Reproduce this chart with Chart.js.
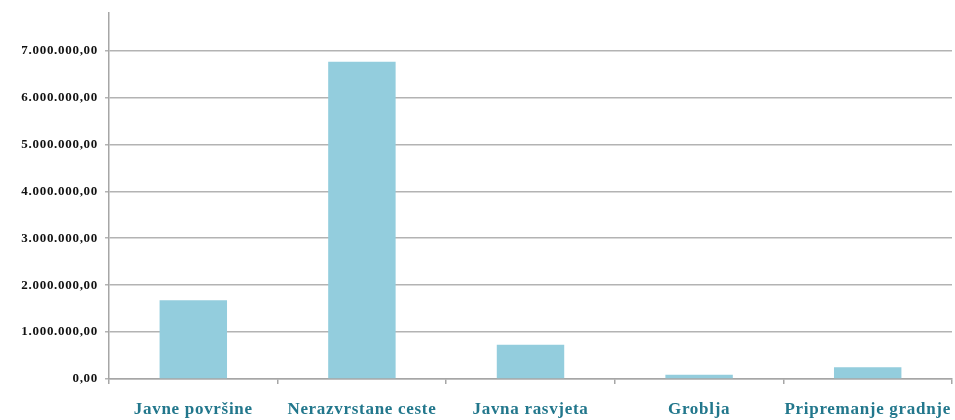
<!DOCTYPE html>
<html><head><meta charset="utf-8">
<script src="https://cdn.jsdelivr.net/npm/chart.js@4/dist/chart.umd.min.js"></script>
<style>html,body{margin:0;padding:0;background:#fff}#w{width:955px;height:420px}</style>
</head><body><div id="w"><canvas id="c"></canvas></div>
<script>
const categories = ["Javne površine", "Nerazvrstane ceste", "Javna rasvjeta", "Groblja", "Pripremanje gradnje"];
const values = [1680000, 6760000, 730000, 90000, 250000];
const yTicks = [0, 1000000, 2000000, 3000000, 4000000, 5000000, 6000000, 7000000];
const yMax = 7800000;

function fmt(v){
  const s = Math.round(v).toString().replace(/\B(?=(\d{3})+(?!\d))/g, ".");
  return s + ",00";
}

const spacing = {
  id: 'spacing',
  beforeDraw(chart){ chart.ctx.letterSpacing = '0.7px'; }
};

new Chart(document.getElementById('c'), {
  type: 'bar',
  data: { labels: categories, datasets: [{ data: values, backgroundColor: '#93CDDD', borderWidth: 0, barPercentage: 0.4, categoryPercentage: 1 }] },
  plugins: [spacing],
  options: {
    responsive: true, maintainAspectRatio: false, animation: false,
    layout: { padding: { top: 13, right: 3, left: 0, bottom: 0 } },
    plugins: { legend: { display: false }, tooltip: { enabled: false } },
    scales: {
      x: {
        afterFit: s => { s.height = 41; s.paddingLeft = 0; s.paddingRight = 0; },
        grid: { drawOnChartArea: false, offset: true, color: '#a6a6a6', lineWidth: 1.5, tickLength: 5 },
        border: { color: '#a6a6a6', width: 1.5 },
        ticks: { color: '#22778C', padding: 15, font: { family: 'Liberation Serif', size: 17, weight: 'bold' } }
      },
      y: {
        min: 0, max: yMax,
        afterFit: s => { s.width = 109; s.paddingTop = 0; s.paddingBottom = 0; },
        afterBuildTicks: s => { s.ticks = yTicks.map(v => ({ value: v })); },
        grid: { color: '#b3b3b3', lineWidth: 1.5, tickLength: 4 },
        border: { color: '#a6a6a6', width: 1.5 },
        ticks: { color: '#111', padding: 7, callback: v => fmt(v), font: { family: 'Liberation Serif', size: 13, weight: 'bold' } }
      }
    }
  }
});
</script></body></html>
